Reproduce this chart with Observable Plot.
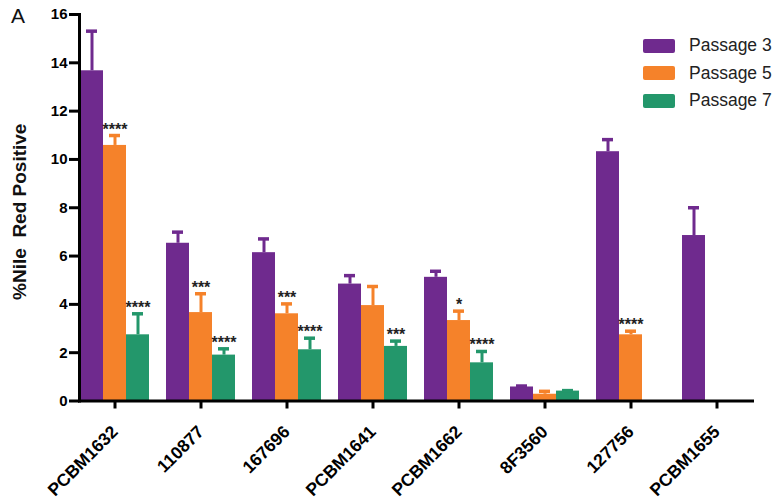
<!DOCTYPE html>
<html>
<head>
<meta charset="utf-8">
<script src="https://cdn.jsdelivr.net/npm/d3@7"></script>
<script src="https://cdn.jsdelivr.net/npm/@observablehq/plot@0.6"></script>
<style>
  body { margin: 0; background: #fff; }
  #wrap { position: relative; width: 781px; height: 500px; font-family: "Liberation Sans", Arial, sans-serif; }
  #panel { position: absolute; left: 11px; top: 5px; font-size: 21px; line-height: 21px; color: #111; }
  #legend { position: absolute; left: 643px; top: 32px; }
  .leg-swatches { margin: 0 !important; font-family: "Liberation Sans", Arial, sans-serif !important; font-size: 17.5px !important; color: #222; }
  .leg-swatch { height: 27.5px !important; padding: 0 !important; display: flex !important; align-items: center !important; }
  .leg-swatch svg { margin-right: 14px !important; }
  .leg-swatch svg rect { rx: 2px; }
</style>
</head>
<body>
<div id="wrap">
  <div id="chart"></div>
  <div id="panel">A</div>
  <div id="legend"></div>
</div>
<script>
const categories = ["PCBM1632", "110877", "167696", "PCBM1641", "PCBM1662", "8F3560", "127756", "PCBM1655"];
const passages = ["Passage 3", "Passage 5", "Passage 7"];
const colors = ["#6F2A8E", "#F5822A", "#23976B"];

const p3 = [13.67, 6.53, 6.14, 4.84, 5.12, 0.58, 10.32, 6.85];
const p3err = [1.64, 0.46, 0.57, 0.35, 0.25, 0.04, 0.50, 1.15];
const p5 = [10.58, 3.66, 3.61, 3.95, 3.33, 0.28, 2.74, null];
const p5err = [0.41, 0.78, 0.41, 0.79, 0.39, 0.12, 0.15, null];
const p7 = [2.74, 1.90, 2.12, 2.26, 1.58, 0.41, null, null];
const p7err = [0.87, 0.26, 0.48, 0.22, 0.47, 0.02, null, null];
const p3stars = ["", "", "", "", "", "", "", ""];
const p5stars = ["****", "***", "***", "", "*", "", "****", ""];
const p7stars = ["****", "****", "****", "***", "****", "", "", ""];
const yTicks = [0, 2, 4, 6, 8, 10, 12, 14, 16];
const yLabel = "%Nile\u00a0 Red Positive";

const series = [[p3, p3err, p3stars], [p5, p5err, p5stars], [p7, p7err, p7stars]];
const table = [];
categories.forEach((c, i) => {
  series.forEach(([v, e, s], j) => {
    if (v[i] != null) table.push({cat: c, passage: passages[j], value: v[i], err: e[i], star: s[i]});
  });
});

const font = "'Liberation Sans', Arial, sans-serif";

const chart = Plot.plot({
  width: 781,
  height: 500,
  marginLeft: 69,
  marginRight: 19,
  marginTop: 14,
  marginBottom: 99.5,
  style: {fontFamily: font, background: "#fff", color: "#000"},
  fx: {domain: categories, paddingInner: 0.17, paddingOuter: 0.085},
  x: {domain: passages, padding: 0, axis: null},
  y: {domain: [0, 16]},
  color: {domain: passages, range: colors},
  marks: [
    Plot.barY(table, {fx: "cat", x: "passage", y: "value", fill: "passage"}),
    Plot.ruleX(table, {fx: "cat", x: "passage", y1: "value", y2: d => d.value + d.err, stroke: "passage", strokeWidth: 3}),
    Plot.tickY(table, {fx: "cat", x: "passage", y: d => d.value + d.err, stroke: "passage", strokeWidth: 3.5, insetLeft: 6, insetRight: 6}),
    Plot.text(table.filter(d => d.star), {fx: "cat", x: "passage", y: d => d.value + d.err, text: "star", lineAnchor: "bottom", dy: -1, fontSize: 16, fontWeight: "bold", fill: "#222"}),
    Plot.frame({anchor: "bottom", facet: "super", strokeWidth: 3}),
    Plot.frame({anchor: "left", facet: "super", strokeWidth: 3}),
    Plot.axisY(yTicks, {tickSize: 10, tickPadding: 2, strokeWidth: 3, fontSize: 15, fontWeight: "bold", label: null}),
    Plot.axisFx({anchor: "bottom", tickSize: 8, tickPadding: 20, strokeWidth: 3, tickRotate: -45, fontSize: 17.5, fontWeight: "bold", label: null}),
    Plot.text([yLabel], {facet: "super", frameAnchor: "left", rotate: -90, textAnchor: "middle", lineAnchor: "middle", dx: -60, dy: 4, fontSize: 19, fontWeight: "bold", fill: "#111"})
  ]
});
document.getElementById("chart").appendChild(chart);

const leg = chart.legend("color", {columns: 1, swatchWidth: 32, swatchHeight: 14, className: "leg"});
document.getElementById("legend").appendChild(leg);
</script>
</body>
</html>
